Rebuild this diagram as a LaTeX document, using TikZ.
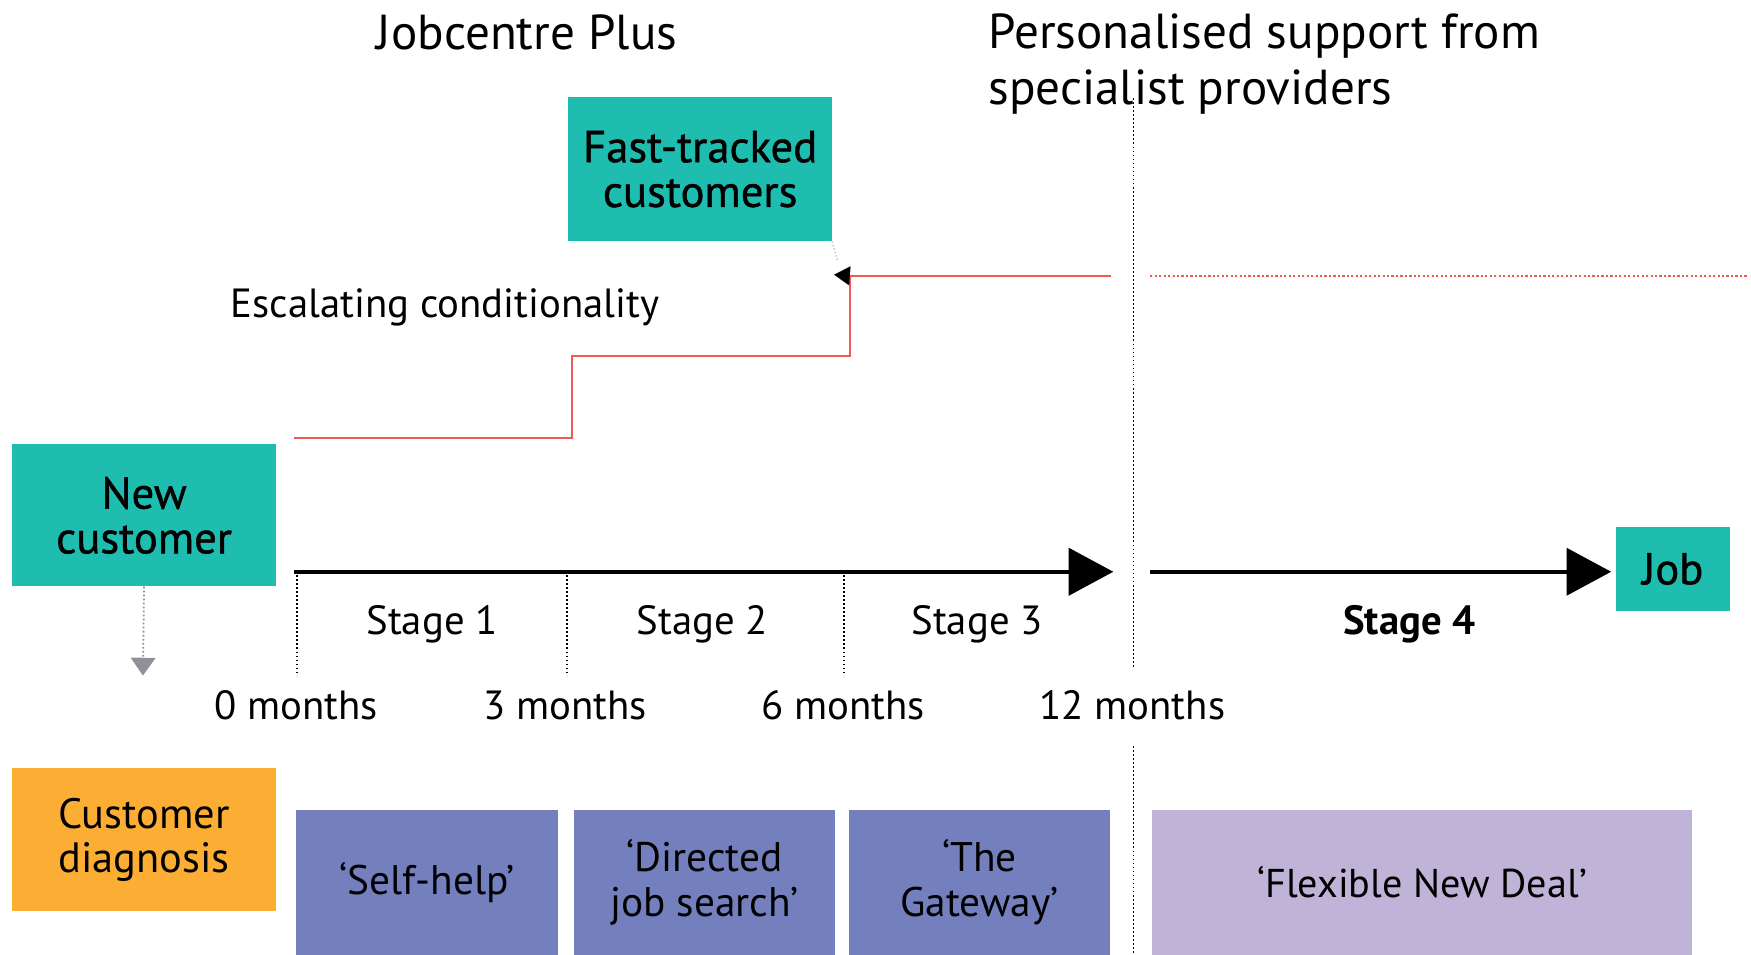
\documentclass[tikz,border=0pt]{standalone}
\usepackage{fontspec}
\setmainfont{PT Sans}
\newfontfamily\medfont[FakeBold=1]{PT Sans}
\usetikzlibrary{arrows.meta}
\definecolor{C1FBCB0}{HTML}{1FBCB0}
\definecolor{CFBAE33}{HTML}{FBAE33}
\definecolor{C7480BE}{HTML}{7480BE}
\definecolor{CBFB3D7}{HTML}{BFB3D7}
\definecolor{CF05A50}{HTML}{F05A50}
\definecolor{C8F9196}{HTML}{8F9196}

\begin{document}
\begin{tikzpicture}[inner sep=0pt,x=1pt,y=-1pt,
  head/.style={font=\fontsize{44}{50}\selectfont},
  lbl/.style={font=\fontsize{36.5}{44}\selectfont},
  tealbox/.style={fill=C1FBCB0,align=center,font=\medfont\fontsize{40}{40}\selectfont},
  stagebox/.style={fill=C7480BE,align=center,font=\fontsize{37}{40}\selectfont},
  tick/.style={dotted,line width=1.6pt},
  axis/.style={line width=4pt,-{Triangle[length=40pt,width=42pt]}}]
\useasboundingbox (0,0) rectangle (1568,855);

\node (n0) [head,anchor=base,at={(472,44)}] {Jobcentre Plus};
\node (n1) [head,anchor=north west,align=left,at={(885,12)}] {Personalised support from\\specialist providers};
\node (n2) [tealbox,minimum width=236pt,minimum height=129pt,at={(627,151.5)}] {Fast-tracked\\customers};
\node (n3) [lbl,anchor=base,at={(398.5,284)}] {Escalating conditionality};
\node (n4) [tealbox,minimum width=236pt,minimum height=127pt,at={(129,461.5)}] {New\\customer};
\node (n5) [tealbox,minimum width=102pt,minimum height=75pt,at={(1498,509.5)}] {Job};

\node (n6) [lbl,anchor=base,at={(387,568.5)}] {Stage 1};
\node (n7) [lbl,anchor=base,at={(629,568.5)}] {Stage 2};
\node (n8) [lbl,anchor=base,at={(875,568.5)}] {Stage 3};
\node (n9) [lbl,anchor=base,at={(1262,568.5)},font=\bfseries\fontsize{36.5}{44}\selectfont] {Stage 4};

\node (m0) [lbl,anchor=base,at={(265,644)}] {0 months};
\node (m3) [lbl,anchor=base,at={(506,644)}] {3 months};
\node (m6) [lbl,anchor=base,at={(755,644)}] {6 months};
\node (m12) [lbl,anchor=base,at={(1014,644)}] {12 months};

\node (n10) [stagebox,fill=CFBAE33,minimum width=236pt,minimum height=128pt,at={(129,752)},font=\fontsize{38}{40}\selectfont] {Customer\\diagnosis};
\node (n11) [stagebox,minimum width=235pt,minimum height=130pt,at={(382.5,790)}] {`Self-help'};
\node (n12) [stagebox,minimum width=234pt,minimum height=130pt,at={(631,790)}] {`Directed\\job search'};
\node (n13) [stagebox,minimum width=234pt,minimum height=130pt,at={(877,790)}] {`The\\Gateway'};
\node (n14) [stagebox,fill=CBFB3D7,minimum width=483pt,minimum height=130pt,at={(1273.5,790)},font=\fontsize{36}{40}\selectfont] {`Flexible New Deal'};

\coordinate (a0) at (263,512);
\coordinate (a1) at (997,512);
\coordinate (a2) at (1030,512);
\coordinate (r0) at (263,392);
\coordinate (r1) at (761,247);
\coordinate (r2) at (995,247);
\coordinate (r3) at (1030,247);
\coordinate (r4) at (1565,247);
\coordinate (f0) at (750,234);
\coordinate (g0) at (128,605);

% escalating conditionality
\path [-,line width=2pt,draw=CF05A50](r0)--(512,392)--(512,319)--(761,319)--(r1)--(r2);
\path [-,line width=2pt,draw=CF05A50,dotted](r3)--(r4);

% timeline
\path [axis,draw](a0)--(a1);
\path [axis,draw,shorten >=4pt](a2)--(a2-|n5.west);
\path [tick,draw](266,515)--(266,605);
\path [tick,draw](508,515)--(508,605);
\path [tick,draw](756,515)--(756,605);
\path [tick,draw](1015,88)--(1015,598);
\path [tick,draw](1015,668)--(1015,855);

% arrows out of the boxes
\path [dotted,line width=1.6pt,draw=C8F9196,-{Triangle[length=16pt,width=22pt,fill=C8F9196]}](n4.south)--(g0);
\path [dotted,line width=1.2pt,draw=C8F9196!60](n2.south east)--(f0);
\path [-{Triangle[length=14pt,width=17pt]},line width=0.1pt,draw](r1)--++(-14,-1);
\end{tikzpicture}
\end{document}
